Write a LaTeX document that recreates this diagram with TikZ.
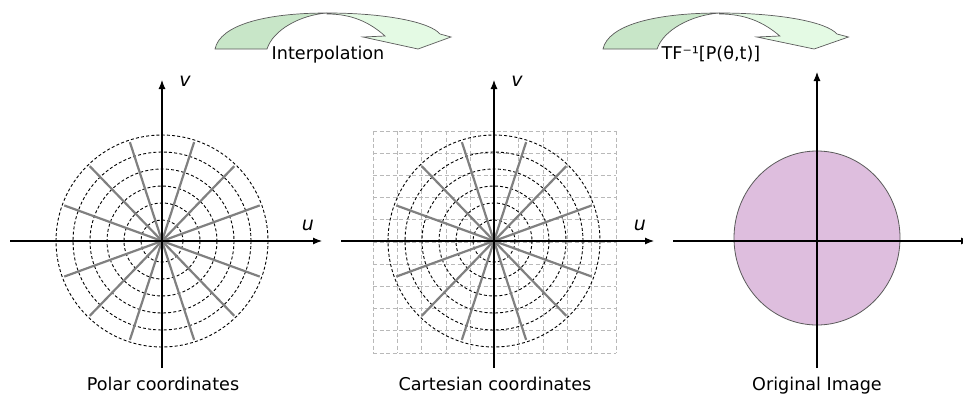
\documentclass[tikz,border=0pt]{standalone}
\usepackage{fontspec}
\setmainfont{DejaVu Sans}
\usepackage{xcolor}
\usetikzlibrary{arrows.meta, calc, positioning}

\definecolor{backgreen}{RGB}{200,230,200}
\definecolor{frontgreen}{RGB}{228,250,228}
\definecolor{edgegray}{RGB}{90,90,90}
\definecolor{discpink}{RGB}{222,190,222}

\tikzset{
    axis/.style={line width=1.1pt, ->},
    ring/.style={line width=0.9pt, dash pattern=on 3pt off 2.2pt},
    spoke/.style={line width=2.2pt, gray},
    gridline/.style={line width=0.8pt, gray!55, dash pattern=on 4pt off 2.5pt},
    bendbox/.style={draw=edgegray, line width=0.7pt},
    axislabel/.style={font=\fontsize{19}{22}\selectfont\itshape, anchor=base},
    caption/.style={font=\fontsize{17.6}{20}\selectfont, anchor=base}
}

% curved block arrow, base corner at (#1,0), stretched by #2
\newcommand{\bendarrow}[2]{%
  \begin{scope}[shift={(#1,0)}, xscale=#2]
    \fill[backgreen, bendbox] (0,49) .. controls (5,25) and (50,13) .. (112,13)
        .. controls (85,15) and (58,30) .. (52,49) -- cycle;
    \fill[frontgreen, bendbox] (112,13) .. controls (170,13) and (215,22) .. (225,34)
        -- (236,37) -- (203,49) -- (148,37) -- (170,36)
        .. controls (150,18) and (130,14) .. (112,14) -- cycle;
  \end{scope}}

\begin{document}
\begin{tikzpicture}[x=1pt, y=-1pt, >={Latex[length=9pt, width=7pt]}]
    \useasboundingbox (0,0) rectangle (963,394);

    % Mũi tên cong phía trên
    \bendarrow{215}{1}
    \bendarrow{603}{1.04}
    \node[caption] (interp) at (328,59) {Interpolation};
    \node[caption] (inverse) at (711,59) {TF⁻¹[P(θ,t)]};

    % Toạ độ cực
    \coordinate (c1) at (162,241);
    \foreach \r in {21,38,55,72,89,106}
        \draw[ring] (c1) circle (\r);
    \foreach \a in {20,46,72,108,134,160}
        \draw[spoke] ($(c1)+(\a:104)$) -- ($(c1)+(\a+180:104)$);
    \coordinate (w1) at (10,241);
    \coordinate (e1) at (322,241);
    \coordinate (s1) at (162,368);
    \coordinate (n1) at (162,80);
    \draw[axis] (w1) -- (e1);
    \draw[axis] (s1) -- (n1);
    \node[axislabel] (v1) at (185,86) {v};
    \node[axislabel] (u1) at (308,230) {u};
    \node[caption] (polar) at (163,390) {Polar coordinates};

    % Toạ độ Descartes
    \coordinate (c2) at (494,241);
    \foreach \i in {0,...,10} {
        \draw[gridline] (373+24.3*\i,131) -- (373+24.3*\i,353);
        \draw[gridline] (373,131+22.2*\i) -- (616,131+22.2*\i);
    }
    \foreach \r in {21,38,55,72,89,106}
        \draw[ring] (c2) circle (\r);
    \foreach \a in {20,46,72,108,134,160}
        \draw[spoke] ($(c2)+(\a:104)$) -- ($(c2)+(\a+180:104)$);
    \coordinate (w2) at (341,241);
    \coordinate (e2) at (654,241);
    \coordinate (s2) at (494,368);
    \coordinate (n2) at (494,80);
    \draw[axis] (w2) -- (e2);
    \draw[axis] (s2) -- (n2);
    \node[axislabel] (v2) at (517,86) {v};
    \node[axislabel] (u2) at (640,230) {u};
    \node[caption] (cart) at (495,390) {Cartesian coordinates};

    % Ảnh gốc
    \coordinate (c3) at (817,238);
    \filldraw[fill=discpink, draw=edgegray, line width=0.8pt] (c3) ellipse [x radius=83, y radius=87];
    \coordinate (w3) at (673,241);
    \coordinate (e3) at (970,241);
    \coordinate (s3) at (817,368);
    \coordinate (n3) at (817,72);
    \draw[axis] (w3) -- (e3);
    \draw[axis] (s3) -- (n3);
    \node[caption] (orig) at (817,390) {Original Image};
\end{tikzpicture}
\end{document}
